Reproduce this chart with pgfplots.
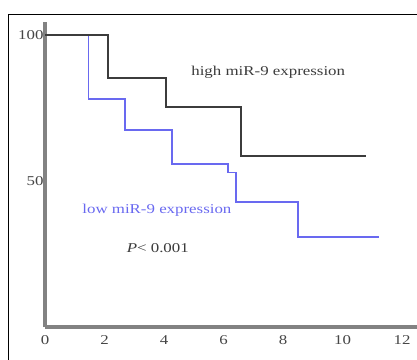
\documentclass[border=0pt]{standalone}
\usepackage{fontspec}
\setmainfont{Liberation Serif}
\newfontfamily\lbl[FakeStretch=1.25]{Liberation Serif}
\usepackage{pgfplots}
\pgfplotsset{compat=1.18}
\definecolor{axgray}{RGB}{130,130,130}
\definecolor{hicol}{RGB}{60,60,60}
\definecolor{locol}{RGB}{105,105,240}
\definecolor{tickcol}{RGB}{70,70,70}
\begin{document}
\begin{tikzpicture}
\useasboundingbox (0,0) rectangle (417bp,360bp);
\draw[line width=1bp,black] (8.3bp,-5bp) -- (8.3bp,345.7bp) -- (425bp,345.7bp);
\begin{axis}[
  at={(45bp,33bp)}, anchor=south west,
  scale only axis, width=372bp, height=305bp,
  xmin=0, xmax=12.5, ymin=0, ymax=104.45,
  axis x line=bottom, axis y line=left,
  axis line style={-, line width=3bp, color=axgray},
  xtick={0,2,...,12}, ytick={50,100},
  major tick length=0pt,
  /pgf/number format/assume math mode=true,
  tick label style={font=\fontsize{13.5bp}{14bp}\lbl, text=tickcol},
  yticklabel style={xshift=2bp},
  xticklabel style={yshift=-5bp},
  clip=false,
]
\addplot[const plot, line width=1.3bp, color=locol] coordinates {
  (0,100) (1.45,78.1) (2.69,67.5) (4.27,55.8) (6.15,53) (6.42,42.8) (8.5,30.8) (11.23,30.8)
};
\addplot[const plot, line width=1.6bp, color=hicol] coordinates {
  (0,100) (2.12,85.3) (4.07,75.3) (6.59,58.6) (10.79,58.6)
};
\node[font=\fontsize{13.5bp}{14bp}\lbl, text=hicol] at (axis cs:7.5,87.3) {high miR-9 expression};
\node[font=\fontsize{13.5bp}{14bp}\lbl, text=locol] at (axis cs:3.76,40.1) {low miR-9 expression};
\node[font=\fontsize{13.5bp}{14bp}\lbl, text=hicol] at (axis cs:3.79,27.1) {\textit{P}< 0.001};
\end{axis}
\end{tikzpicture}
\end{document}
